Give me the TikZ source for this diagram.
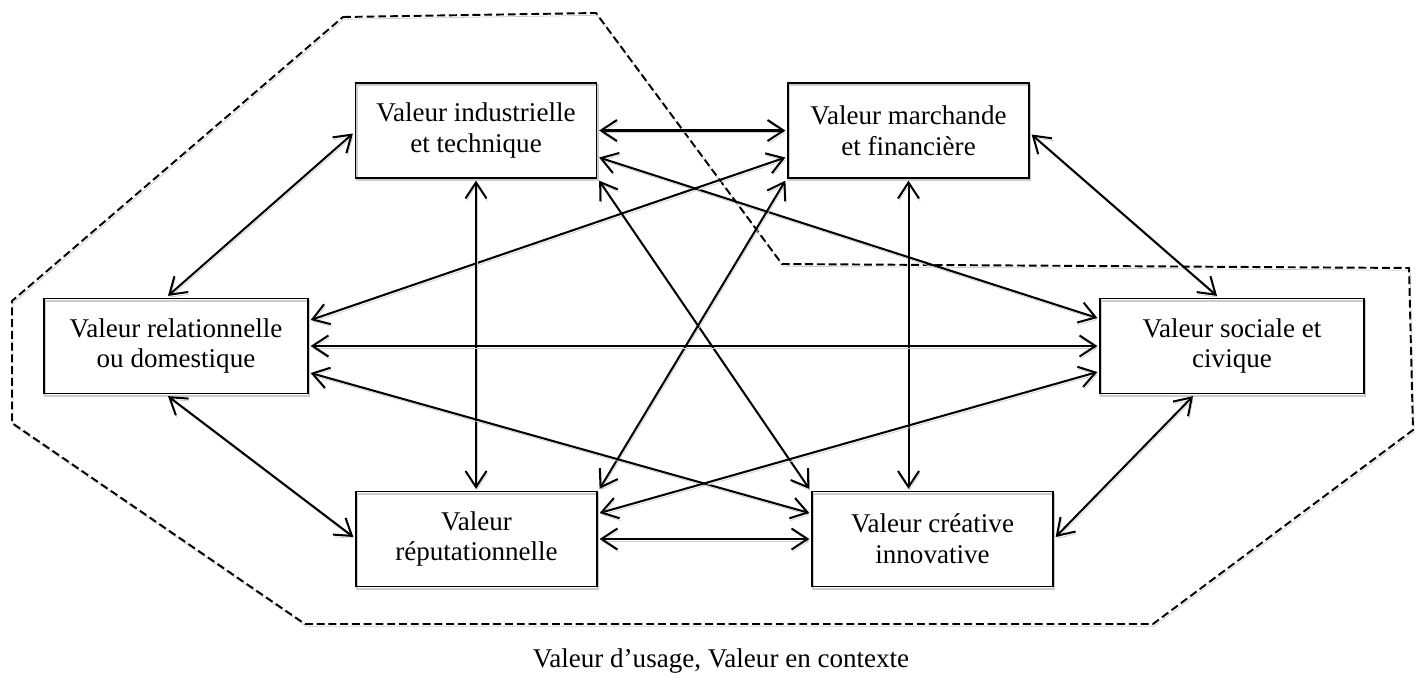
\documentclass[tikz,border=0pt]{standalone}
\usepackage{fontspec}
\setmainfont{Liberation Serif}
\usetikzlibrary{arrows.meta,calc}
\begin{document}
\begin{tikzpicture}
        [
        x=0.02cm, y=-0.02cm,
        >={Straight Barb[length=3.2mm,width=4.2mm]},
        ValNode/.style={rectangle,draw,line width=1.1pt,align=center, minimum width=4.82cm, minimum height=1.9cm, outer sep=1.5pt,
            font=\fontsize{15.4}{17.5}\selectfont,
            preaction={draw=black!20,transform canvas={shift={(0.6pt,-1.3pt)}}}},
        Tag/.style={rectangle,font=\fontsize{15.4}{17.5}\selectfont},
        Link/.style={<->,line width=1.15pt,
            preaction={draw=black!20,transform canvas={shift={(0.6pt,-1.3pt)}}}},
        Zone/.style={line width=1.1pt,dash pattern=on 4.5pt off 2.2pt,
            preaction={draw=black!20,solid,transform canvas={shift={(0.6pt,-1.3pt)}}}},
        ]
        \useasboundingbox (0,0) rectangle (1420,677);

        \draw[Zone] (343,17) -- (596,13) -- (782,264) -- (1409,268) -- (1413,430) -- (1153,624)
            -- (305,624) -- (12,423) -- (12,301) -- cycle;

        \node[ValNode] (n1) at (476,130.5){Valeur industrielle\\et technique};
        \node[ValNode] (n2) at (908.5,130.5){Valeur marchande\\et financière};
        \node[ValNode, minimum width=5.28cm] (n3) at (176,346){Valeur relationnelle\\ou domestique};
        \node[ValNode, minimum width=5.28cm] (n4) at (1232,346){Valeur sociale et\\civique};
        \node[ValNode] (n5) at (476.5,539){Valeur\\réputationnelle};
        \node[ValNode] (n6) at (932.5,539){Valeur créative\\innovative};
        \node[Tag] (tag1) at (721,661){Valeur d’usage, Valeur en contexte};

\draw [Link] (n1.east) -- (n2.west);
\draw [Link] ($(n1.east)+(0,27)$) -- ($(n4.west)+(0,-28)$);
\draw [Link] ($(n2.west)+(0,27)$) -- ($(n3.east)+(0,-26)$);
\draw [Link] ($(n1.west)+(0,3)$) -- ($(n3.north)+(-8,0)$);
\draw [Link] (n1.south) -- (n1.south |- n5.north);
\draw [Link] (n1.south east) -- (n6.north west);
\draw [Link] (n2.south west) -- (n5.north east);
\draw [Link] (n2.south) -- (n2.south |- n6.north);
\draw [Link] ($(n2.east)+(0,4)$) -- ($(n4.north)+(-15,0)$);
\draw [Link] (n3.east) -- (n4.west);
\draw [Link] ($(n3.east)+(0,27)$) -- ($(n6.west)+(0,-26)$);
\draw [Link] ($(n4.west)+(0,26)$) -- ($(n5.east)+(0,-26)$);
\draw [Link] ($(n3.south)+(-8,0)$) -- ($(n5.west)+(0,-2)$);
\draw [Link] ($(n4.south)+(-39,0)$) -- ($(n6.east)+(0,-2)$);
\draw [Link] (n5.east) -- (n6.west);

    \end{tikzpicture}
\end{document}
